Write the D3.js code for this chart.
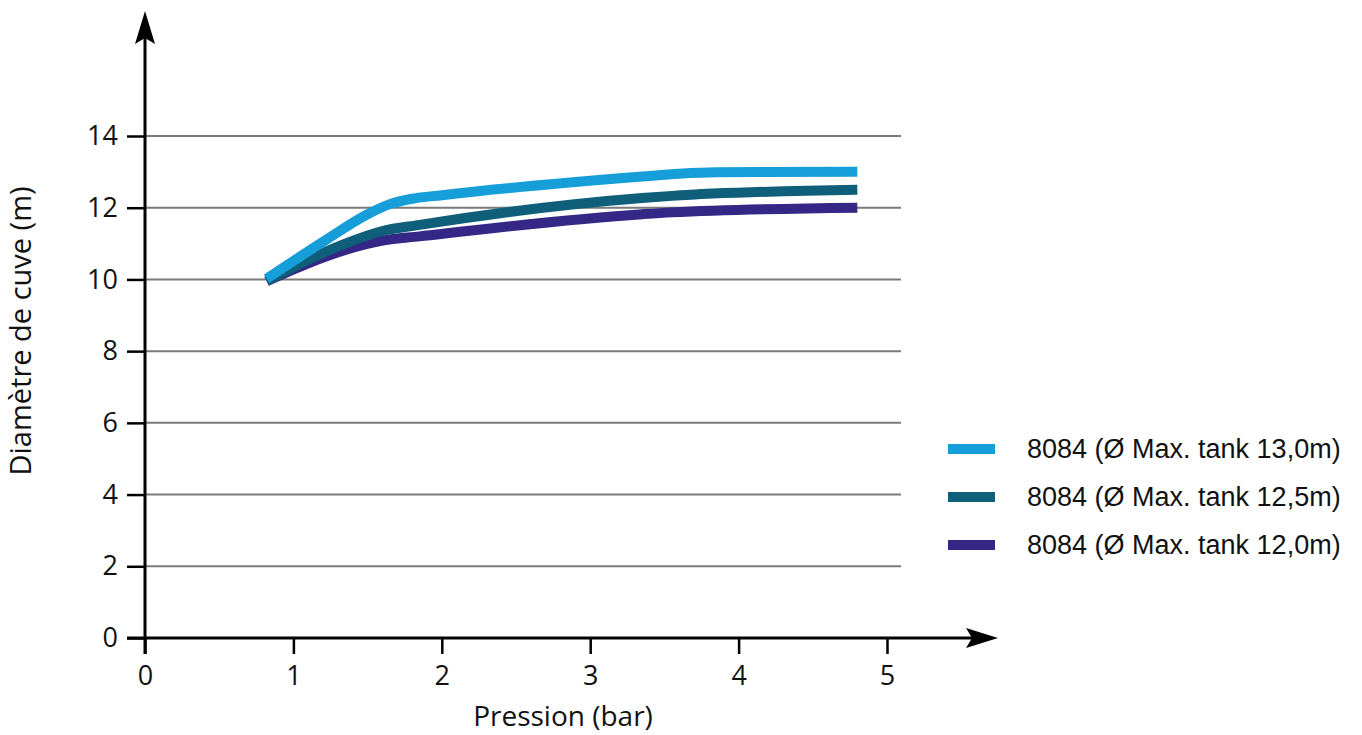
<!DOCTYPE html>
<html>
<head>
<meta charset="utf-8">
<script src="https://cdn.jsdelivr.net/npm/d3@7"></script>
<style>
  body { margin: 0; background: #fff; }
  svg { display: block; }
</style>
</head>
<body>
<div id="chart"></div>
<script>
// series: [pression (bar), diametre (m)]
var tank130 = [[0.82, 10.02], [1.2, 11.05], [1.5, 11.82], [1.65, 12.1], [1.8, 12.25], [2.0, 12.35], [3.35, 12.87], [3.6, 12.95], [3.85, 12.99], [4.8, 13.0]];
var tank125 = [[0.82, 9.95], [1.1, 10.55], [1.35, 11.0], [1.6, 11.35], [1.85, 11.52], [3.35, 12.27], [3.55, 12.33], [4.8, 12.5]];
var tank120 = [[0.82, 9.95], [1.1, 10.45], [1.35, 10.82], [1.6, 11.08], [1.85, 11.2], [3.35, 11.82], [3.55, 11.87], [4.8, 12.0]];

var seriesNames = ["8084 (Ø Max. tank 13,0m)", "8084 (Ø Max. tank 12,5m)", "8084 (Ø Max. tank 12,0m)"];
var seriesColors = ["#169ed9", "#0f5f7b", "#342786"];
var xTicks = [0, 1, 2, 3, 4, 5];
var yTicks = [0, 2, 4, 6, 8, 10, 12, 14];

var width = 1362, height = 735;

var svg = d3.select("#chart").append("svg")
    .attr("width", width)
    .attr("height", height);

var x = d3.scaleLinear().domain([0, 5]).range([145, 887]);
var y = d3.scaleLinear().domain([0, 14]).range([638, 136]);

var tickFont = "'Open Sans', 'Noto Sans', sans-serif";

// grid lines
svg.append("g")
    .selectAll("line")
    .data(yTicks.filter(function(d) { return d > 0; }))
    .enter().append("line")
    .attr("x1", x(0)).attr("x2", 901)
    .attr("y1", function(d) { return y(d); })
    .attr("y2", function(d) { return y(d); })
    .attr("stroke", "#7a7a7a")
    .attr("stroke-width", 2);

// y axis
var yAxis = svg.append("g")
    .attr("transform", "translate(" + x(0) + ",0)")
    .call(d3.axisLeft(y).tickValues(yTicks).tickFormat(d3.format("d")).tickSize(18).tickPadding(9));
yAxis.select(".domain").remove();
yAxis.selectAll(".tick line").attr("stroke", "#000").attr("stroke-width", 2.5);
yAxis.selectAll(".tick text")
    .attr("font-family", tickFont)
    .attr("font-size", 27)
    .attr("fill", "#111");

// x axis
var xAxis = svg.append("g")
    .attr("transform", "translate(0," + y(0) + ")")
    .call(d3.axisBottom(x).tickValues(xTicks).tickFormat(d3.format("d")).tickSize(16).tickPadding(12));
xAxis.select(".domain").remove();
xAxis.selectAll(".tick line").attr("stroke", "#000").attr("stroke-width", 2.5);
xAxis.selectAll(".tick text")
    .attr("font-family", tickFont)
    .attr("font-size", 27)
    .attr("fill", "#111");

// axis lines with arrows
svg.append("line")
    .attr("x1", x(0)).attr("x2", x(0))
    .attr("y1", 654).attr("y2", 30)
    .attr("stroke", "#000").attr("stroke-width", 3);
svg.append("path")
    .attr("d", "M" + x(0) + ",11 L" + (x(0) + 10) + ",44 L" + x(0) + ",38 L" + (x(0) - 10) + ",44 Z")
    .attr("fill", "#000");

svg.append("line")
    .attr("x1", 127).attr("x2", 980)
    .attr("y1", y(0)).attr("y2", y(0))
    .attr("stroke", "#000").attr("stroke-width", 3);
svg.append("path")
    .attr("d", "M998," + y(0) + " L966," + (y(0) - 10) + " L972," + y(0) + " L966," + (y(0) + 10) + " Z")
    .attr("fill", "#000");

// lines
var line = d3.line()
    .x(function(d) { return x(d[0]); })
    .y(function(d) { return y(d[1]); })
    .curve(d3.curveMonotoneX);

var allSeries = [tank120, tank125, tank130];
var allColors = [seriesColors[2], seriesColors[1], seriesColors[0]];

svg.append("g")
    .selectAll("path")
    .data(allSeries)
    .enter().append("path")
    .attr("d", line)
    .attr("fill", "none")
    .attr("stroke", function(d, i) { return allColors[i]; })
    .attr("stroke-width", 10);

// axis titles
svg.append("text")
    .attr("x", 563).attr("y", 726)
    .attr("text-anchor", "middle")
    .attr("font-family", tickFont)
    .attr("font-size", 28)
    .attr("fill", "#111")
    .text("Pression (bar)");

svg.append("text")
    .attr("transform", "translate(31,331) rotate(-90)")
    .attr("text-anchor", "middle")
    .attr("font-family", tickFont)
    .attr("font-size", 29)
    .attr("fill", "#111")
    .text("Diamètre de cuve (m)");

// legend
var legend = svg.append("g")
    .selectAll("g")
    .data(seriesNames)
    .enter().append("g")
    .attr("transform", function(d, i) { return "translate(948," + (449 + i * 48) + ")"; });

legend.append("rect")
    .attr("x", 0).attr("y", -5)
    .attr("width", 47).attr("height", 10)
    .attr("fill", function(d, i) { return seriesColors[i]; });

legend.append("text")
    .attr("x", 79).attr("y", 9)
    .attr("font-family", "'Liberation Sans', Arial, sans-serif")
    .attr("font-size", 27)
    .attr("fill", "#111")
    .text(function(d) { return d; });
</script>
</body>
</html>
